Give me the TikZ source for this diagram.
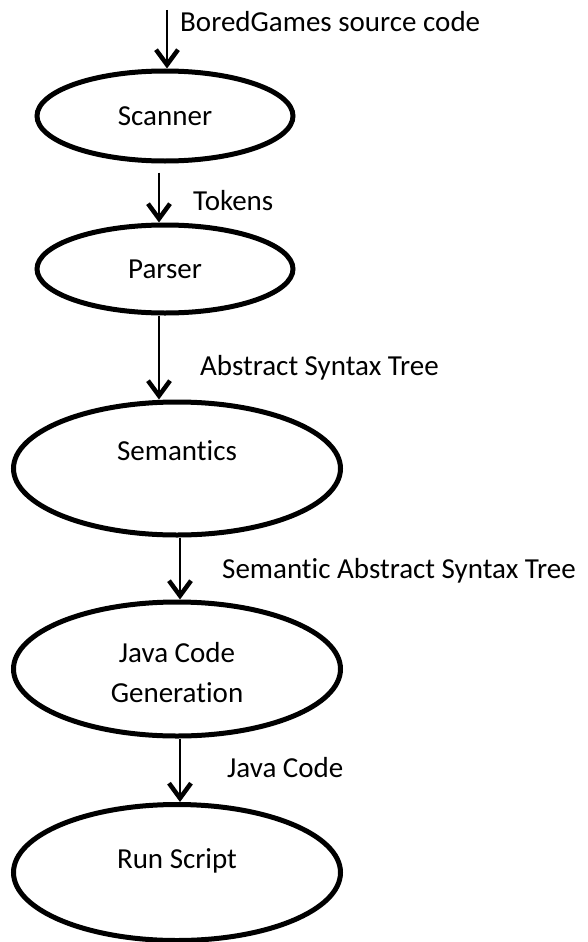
\documentclass[tikz,border=0pt]{standalone}
\usepackage{fontspec}
\setmainfont[Ligatures=NoCommon]{Carlito}
\usetikzlibrary{shapes.geometric,arrows.meta}

\begin{document}
\begin{tikzpicture}[x=1pt,y=-1pt,
  stage/.style={ellipse, draw, line width=5pt, inner sep=0pt},
  flow/.style={line width=2.7pt, -{Straight Barb[length=15pt,width=22pt,line width=4.5pt]}},
  txt/.style={inner sep=0pt, anchor=base, align=center, font=\fontsize{29}{40}\selectfont},
  lbl/.style={inner sep=0pt, anchor=base west, font=\fontsize{29}{40}\selectfont}]
\useasboundingbox (0,0) rectangle (587,942);

% the five stages
\node[stage, minimum width=256, minimum height=90] (scanner) at (165,116) {};
\node[stage, minimum width=256, minimum height=88] (parser) at (165,269) {};
\node[stage, minimum width=327, minimum height=133] (semantics) at (177,468.5) {};
\node[stage, minimum width=327, minimum height=134] (javagen) at (177,669) {};
\node[stage, minimum width=327, minimum height=136] (runscript) at (177,872.5) {};

\node[txt] (scannertxt) at ([yshift=-9pt]scanner.center) {Scanner};
\node[txt] (parsertxt) at ([yshift=-9pt]parser.center) {Parser};
\node[txt] (semanticstxt) at ([yshift=8.5pt]semantics.center) {Semantics};
\node[txt] (javagentxt) at ([yshift=-33pt]javagen.center) {Java Code\\Generation};
\node[txt] (runscripttxt) at ([yshift=4pt]runscript.center) {Run Script};

% arrows between stages
\coordinate (src) at (167,10);
\draw[flow] (src) -- (src |- scanner.north);
\draw[flow, shorten <=9pt] ([xshift=-6pt]scanner.south) -- ([xshift=-6pt]parser.north);
\draw[flow] ([xshift=-6pt]parser.south) -- ([xshift=-6pt]parser.south |- semantics.north);
\draw[flow] ([xshift=3pt]semantics.south) -- ([xshift=3pt]javagen.north);
\draw[flow] ([xshift=3pt]javagen.south) -- ([xshift=3pt]runscript.north);

% labels
\node[lbl] (srclbl) at (180,32) {BoredGames source code};
\node[lbl] (tokenslbl) at (193,210) {Tokens};
\node[lbl] (astlbl) at (200,375) {Abstract Syntax Tree};
\node[lbl] (sastlbl) at (222,578) {Semantic Abstract Syntax Tree};
\node[lbl] (javalbl) at (227,777) {Java Code};
\end{tikzpicture}
\end{document}
